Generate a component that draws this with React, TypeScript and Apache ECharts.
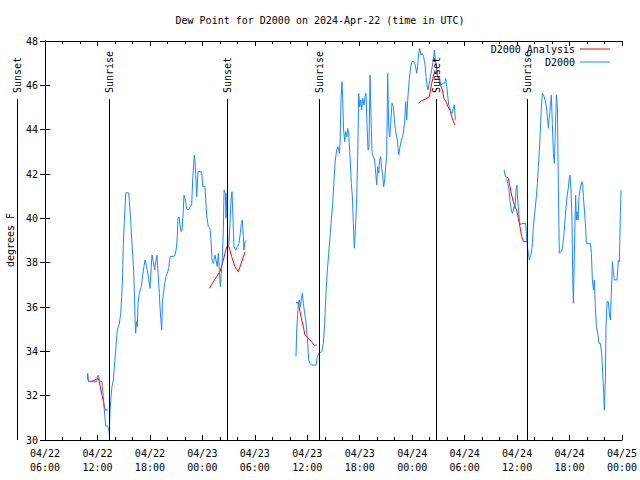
import React, { useEffect, useRef } from "react";
import * as echarts from "echarts";

const FONT = "'DejaVu Sans Mono', 'Liberation Mono', monospace";
const BLUE = "#1e88ff";
const RED = "#ff0000";

const titleText = "Dew Point for D2000 on 2024-Apr-22 (time in UTC)";
const yAxisTitle = "degrees F";

// x axis: hours since 2024-04-22 06:00 UTC
const xTickLabels = [
  "04/22\n06:00", "04/22\n12:00", "04/22\n18:00", "04/23\n00:00",
  "04/23\n06:00", "04/23\n12:00", "04/23\n18:00", "04/24\n00:00",
  "04/24\n06:00", "04/24\n12:00", "04/24\n18:00", "04/25\n00:00",
];

const sunLabels = ["Sunset", "Sunrise", "Sunset", "Sunrise", "Sunset", "Sunrise"];
const sunHours = [-3.2, 7.32, 20.82, 31.34, 44.73, 55.14];

// D2000 observations, segment 1
const obs1Hours = [4.84, 4.88, 4.96, 5.0, 5.91, 6.02, 6.14, 6.21, 6.29, 6.52, 6.56, 6.67, 6.75, 6.83, 6.94, 7.17, 7.28, 7.36, 7.44, 7.55, 7.66, 7.82, 7.97, 8.12, 8.27, 8.5, 8.66, 8.77, 8.88, 8.96, 9.08, 9.23, 9.57, 9.65, 9.8, 9.91, 10.03, 10.14, 10.22, 10.3, 10.37, 10.45, 10.56, 10.64, 10.79, 11.02, 11.17, 11.32, 11.44, 11.63, 11.82, 12.01, 12.13, 12.24, 12.39, 12.55, 12.66, 12.81, 12.93, 13.08, 13.15, 13.27, 13.35, 13.42, 13.54, 13.69, 13.84, 13.99, 14.15, 14.3, 14.83, 14.99, 15.1, 15.21, 15.33, 15.44, 15.56, 15.67, 15.79, 15.9, 16.05, 16.21, 16.4, 16.59, 16.78, 16.89, 17.01, 17.08, 17.2, 17.35, 17.5, 17.92, 18.04, 18.3, 18.49, 18.68, 18.87, 18.99, 19.1, 19.26, 19.45, 19.56, 19.71, 19.83, 19.94, 20.06, 20.17, 20.28, 20.4, 20.48, 20.63, 20.7, 20.82, 20.93, 21.05, 21.16, 21.28, 21.39, 21.51, 21.62, 21.81, 22.0, 22.19, 22.34, 22.46, 22.57, 22.69, 22.76, 22.88, 23.03];
const obs1Dew = [32.71, 33.01, 32.78, 32.63, 32.63, 32.9, 32.9, 32.75, 32.63, 32.63, 32.4, 31.95, 31.5, 31.13, 30.63, 30.63, 30.48, 30.3, 31.35, 31.95, 32.4, 32.71, 33.53, 34.21, 34.96, 35.23, 35.71, 36.46, 37.44, 38.87, 39.92, 41.15, 41.15, 40.75, 39.92, 39.1, 38.34, 37.67, 36.62, 35.41, 34.81, 35.34, 35.11, 36.17, 36.62, 36.92, 37.44, 37.82, 38.12, 37.82, 37.37, 36.84, 37.67, 38.34, 38.04, 37.67, 38.04, 38.34, 37.52, 36.62, 36.01, 35.34, 34.96, 36.17, 36.62, 37.07, 37.37, 37.52, 37.74, 38.27, 38.3, 38.57, 38.95, 40.0, 40.07, 39.7, 39.4, 39.47, 40.15, 41.05, 40.83, 40.45, 40.37, 40.52, 40.6, 41.73, 42.48, 42.86, 42.33, 40.97, 42.1, 42.1, 41.43, 41.43, 40.15, 39.62, 39.55, 39.02, 38.12, 37.97, 38.34, 38.12, 37.82, 38.42, 37.67, 36.92, 37.52, 38.12, 39.47, 41.28, 41.13, 40.0, 41.13, 38.72, 38.87, 39.77, 40.83, 41.2, 39.92, 38.72, 38.57, 38.72, 38.87, 39.32, 39.77, 39.92, 39.17, 38.57, 38.95, 38.99];

// D2000 observations, segment 2
const obs2Hours = [28.71, 28.79, 28.98, 29.09, 29.21, 29.32, 29.44, 29.55, 29.7, 29.82, 29.93, 30.05, 30.16, 30.31, 30.5, 31.0, 31.15, 31.3, 31.65, 31.84, 31.99, 32.14, 32.3, 32.45, 32.6, 32.75, 32.91, 33.06, 33.21, 33.36, 33.52, 33.67, 33.75, 33.86, 33.97, 34.05, 34.16, 34.28, 34.39, 34.51, 34.62, 34.74, 34.89, 35.04, 35.16, 35.27, 35.38, 35.5, 35.65, 35.77, 35.88, 36.0, 36.11, 36.22, 36.34, 36.49, 36.6, 36.72, 36.83, 36.95, 37.06, 37.18, 37.29, 37.41, 37.56, 37.71, 37.83, 37.94, 38.05, 38.17, 38.28, 38.4, 38.51, 38.63, 38.74, 38.85, 38.97, 39.08, 39.2, 39.31, 39.43, 39.54, 39.69, 39.85, 40.0, 40.15, 40.3, 40.46, 40.61, 40.76, 40.91, 41.02, 41.14, 41.26, 41.37, 41.49, 41.6, 41.71, 41.83, 41.98, 42.21, 42.36, 42.52, 42.63, 42.74, 42.86, 43.01, 43.16, 43.31, 43.47, 43.58, 43.7, 43.81, 43.96, 44.08, 44.23, 44.42, 44.54, 44.65, 44.8, 44.99, 45.11, 45.26, 45.56, 45.72, 45.83, 45.95, 46.06, 46.18, 46.29, 46.4, 46.56, 46.71, 46.82, 46.94];
const obs2Dew = [33.76, 34.96, 36.17, 36.31, 36.01, 36.39, 36.62, 36.17, 35.71, 35.41, 34.96, 34.36, 33.61, 33.46, 33.38, 33.38, 33.76, 33.91, 33.98, 34.36, 35.26, 36.62, 37.67, 38.42, 39.17, 39.92, 40.68, 41.73, 42.63, 43.08, 43.23, 42.93, 43.38, 45.34, 46.16, 45.41, 43.98, 43.46, 43.91, 43.68, 44.06, 43.83, 42.78, 41.58, 40.97, 39.77, 38.65, 39.47, 40.83, 42.78, 45.64, 45.03, 45.34, 44.89, 45.41, 45.11, 45.49, 45.64, 44.28, 43.08, 43.23, 46.46, 44.58, 42.93, 42.78, 42.63, 42.03, 41.5, 42.33, 42.03, 42.63, 42.78, 42.25, 41.95, 41.43, 41.73, 42.33, 42.78, 46.54, 44.13, 43.68, 44.28, 45.19, 45.03, 44.28, 43.83, 43.53, 42.86, 43.23, 43.53, 43.68, 43.98, 44.36, 45.26, 44.43, 45.34, 45.94, 46.46, 46.84, 47.07, 47.07, 46.91, 46.54, 46.91, 47.44, 47.67, 47.37, 47.44, 47.29, 46.91, 46.39, 46.01, 45.79, 46.09, 46.39, 46.69, 47.14, 47.59, 47.14, 46.69, 46.24, 46.39, 46.01, 46.09, 46.09, 46.31, 45.94, 45.56, 45.11, 45.03, 44.81, 44.73, 44.96, 45.11, 44.43];

// D2000 observations, segment 3
const obs3Hours = [52.51, 52.62, 52.81, 52.92, 53.08, 53.19, 53.31, 53.46, 53.57, 53.69, 53.76, 53.88, 53.99, 54.07, 54.14, 54.26, 54.37, 54.53, 54.98, 55.06, 55.14, 55.29, 55.4, 55.52, 55.63, 55.75, 55.86, 55.97, 56.09, 56.2, 56.32, 56.43, 56.55, 56.66, 56.78, 56.89, 57.04, 57.2, 57.35, 57.46, 57.58, 57.69, 57.8, 57.92, 58.03, 58.15, 58.26, 58.38, 58.49, 58.61, 58.72, 58.83, 58.99, 59.14, 59.25, 59.37, 59.48, 59.6, 59.71, 59.83, 59.94, 60.05, 60.17, 60.28, 60.36, 60.44, 60.55, 60.63, 60.7, 60.78, 60.86, 60.97, 61.08, 61.2, 61.31, 61.43, 61.5, 61.58, 61.7, 61.81, 61.93, 62.38, 62.5, 62.61, 62.73, 62.84, 62.95, 63.07, 63.22, 63.37, 63.52, 63.68, 63.79, 63.91, 63.98, 64.1, 64.17, 64.29, 64.44, 64.55, 64.67, 64.78, 64.9, 65.01, 65.12, 65.43, 65.58, 65.7, 65.81, 65.89];
const obs3Dew = [42.18, 41.95, 41.8, 41.58, 41.28, 40.75, 40.45, 40.22, 40.37, 40.6, 40.45, 41.28, 41.5, 40.83, 40.52, 39.92, 39.7, 39.77, 39.77, 39.32, 38.87, 38.42, 38.12, 38.27, 38.42, 38.87, 39.62, 40.07, 40.52, 40.97, 41.58, 42.33, 43.08, 43.98, 45.03, 45.64, 45.56, 45.34, 45.03, 44.58, 44.06, 44.58, 45.03, 45.56, 44.28, 42.93, 42.48, 43.98, 45.56, 45.03, 41.43, 38.42, 38.49, 38.57, 38.87, 39.32, 39.92, 40.52, 40.97, 41.28, 41.73, 41.95, 41.28, 39.92, 37.37, 36.17, 38.42, 39.92, 41.05, 39.92, 40.3, 39.92, 40.97, 41.28, 41.5, 41.65, 41.58, 40.97, 40.37, 39.77, 38.87, 38.87, 38.42, 37.22, 36.77, 37.22, 36.01, 35.11, 34.81, 34.36, 34.36, 33.91, 33.01, 32.11, 31.35, 32.71, 35.11, 36.24, 36.24, 35.71, 35.41, 36.62, 38.04, 37.59, 37.22, 37.22, 38.12, 38.04, 40.22, 41.28];

// D2000 Analysis segments
const ana1Hours = [4.95, 5.53, 5.91, 6.1, 6.25, 6.4, 6.56, 6.71, 6.83, 6.9, 7.17];
const ana1Dew = [32.63, 32.67, 32.75, 32.78, 32.56, 32.25, 31.95, 31.68, 31.42, 31.35, 31.35];
const ana2Hours = [18.79, 19.26, 19.64, 20.02, 20.4, 20.78, 21.05, 21.35, 21.73, 22.11, 22.5, 22.88];
const ana2Dew = [36.84, 37.14, 37.37, 37.6, 38.12, 38.72, 38.72, 38.27, 37.82, 37.59, 38.04, 38.49];
const ana3Hours = [28.71, 28.98, 29.17, 29.36, 29.55, 29.74, 30.12, 30.5, 30.77, 31.08];
const ana3Dew = [36.19, 36.19, 35.79, 35.41, 35.11, 34.74, 34.59, 34.43, 34.28, 34.28];
const ana4Hours = [42.71, 43.09, 43.47, 43.96, 44.23, 44.5, 44.73, 44.96, 45.18, 45.45, 45.64, 45.87, 46.1, 46.33, 46.52, 46.71, 46.9];
const ana4Dew = [45.19, 45.31, 45.37, 45.49, 46.09, 46.54, 46.61, 46.39, 46.09, 45.79, 45.41, 45.26, 45.03, 44.89, 44.58, 44.36, 44.21];
const ana5Hours = [52.81, 53.0, 53.19, 53.38, 53.57, 53.76, 53.95, 54.14, 54.33, 54.53, 54.72, 55.1];
const ana5Dew = [41.88, 41.8, 41.43, 41.05, 40.75, 40.52, 40.37, 40.0, 39.62, 39.17, 38.95, 38.95];

const pair = (t: number[], v: number[]) => t.map((h, i) => [h, v[i]]);

export default function App() {
  const ref = useRef<HTMLDivElement>(null);
  useEffect(() => {
    document.body.style.margin = "0";
    const chart = echarts.init(ref.current!, null, { renderer: "svg" });
    const txt = { fontFamily: FONT, fontSize: 10, color: "#000" };
    const black = { color: "#000", width: 1 };
    const baseX = {
      type: "value" as const,
      min: 0,
      max: 66,
      interval: 6,
      axisLine: { show: true, lineStyle: black },
      axisTick: { show: true, inside: true, length: 5, lineStyle: black },
      minorTick: { show: true, splitNumber: 3, length: 3, lineStyle: black },
      splitLine: { show: false },
      minorSplitLine: { show: false },
    };
    const baseY = {
      type: "value" as const,
      min: 30,
      max: 48,
      interval: 2,
      axisLine: { show: true, lineStyle: black },
      axisTick: { show: true, inside: true, length: 5, lineStyle: black },
      splitLine: { show: false },
    };
    const lineSeries = (name: string, color: string, data: number[][], z: number) => ({
      type: "line",
      name,
      data,
      showSymbol: false,
      symbol: "none",
      color,
      lineStyle: { color, width: 1 },
      z,
    });
    const legendBase = {
      right: 30,
      align: "right",
      orient: "vertical",
      icon: "rect",
      itemWidth: 30,
      itemHeight: 1,
      padding: 0,
      selectedMode: false,
      textStyle: txt,
    };
    chart.setOption({
      animation: false,
      title: {
        text: titleText,
        left: "center",
        top: 10,
        textStyle: { ...txt, fontWeight: "normal" },
      },
      legend: [
        { ...legendBase, top: 44, data: ["D2000 Analysis"] },
        { ...legendBase, top: 57, data: ["D2000"] },
      ],
      grid: { left: 45, right: 18, top: 41, bottom: 40, outerBoundsMode: "none" },
      xAxis: [
        {
          ...baseX,
          position: "bottom",
          axisLabel: {
            ...txt,
            lineHeight: 14,
            margin: 6,
            showMinLabel: true,
            showMaxLabel: true,
            formatter: (v: number) => xTickLabels[Math.round(v / 6)] ?? "",
          },
        },
        { ...baseX, position: "top", axisLabel: { show: false } },
      ],
      yAxis: [
        {
          ...baseY,
          position: "left",
          axisLabel: { ...txt, margin: 7, showMinLabel: true, showMaxLabel: true },
        },
        { ...baseY, position: "right", axisLabel: { show: false } },
      ],
      series: [
        lineSeries("D2000 Analysis", RED, pair(ana1Hours, ana1Dew), 2),
        lineSeries("D2000 Analysis", RED, pair(ana2Hours, ana2Dew), 2),
        lineSeries("D2000 Analysis", RED, pair(ana3Hours, ana3Dew), 2),
        lineSeries("D2000 Analysis", RED, pair(ana4Hours, ana4Dew), 2),
        lineSeries("D2000 Analysis", RED, pair(ana5Hours, ana5Dew), 2),
        lineSeries("D2000", BLUE, pair(obs1Hours, obs1Dew), 3),
        lineSeries("D2000", BLUE, pair(obs2Hours, obs2Dew), 3),
        lineSeries("D2000", BLUE, pair(obs3Hours, obs3Dew), 3),
      ],
    });

    const bottomY = chart.convertToPixel({ yAxisIndex: 0 }, 30) as number;
    const graphics: any[] = [
      {
        type: "text",
        x: 10,
        y: 240,
        rotation: Math.PI / 2,
        style: { text: yAxisTitle, font: `10px ${FONT}`, fill: "#000", align: "center", verticalAlign: "middle" },
      },
    ];
    sunHours.forEach((h, i) => {
      const px = Math.round(chart.convertToPixel({ xAxisIndex: 0 }, h) as number) + 0.5;
      graphics.push({
        type: "line",
        shape: { x1: px, y1: 99, x2: px, y2: bottomY },
        style: { stroke: "#000", lineWidth: 1 },
        z: 5,
      });
      graphics.push({
        type: "text",
        x: px,
        y: 93,
        rotation: Math.PI / 2,
        style: { text: sunLabels[i], font: `10px ${FONT}`, fill: "#000", align: "left", verticalAlign: "middle" },
        z: 5,
      });
    });
    chart.setOption({ graphic: graphics });

    return () => chart.dispose();
  }, []);
  return <div ref={ref} style={{ width: 640, height: 480 }} />;
}
